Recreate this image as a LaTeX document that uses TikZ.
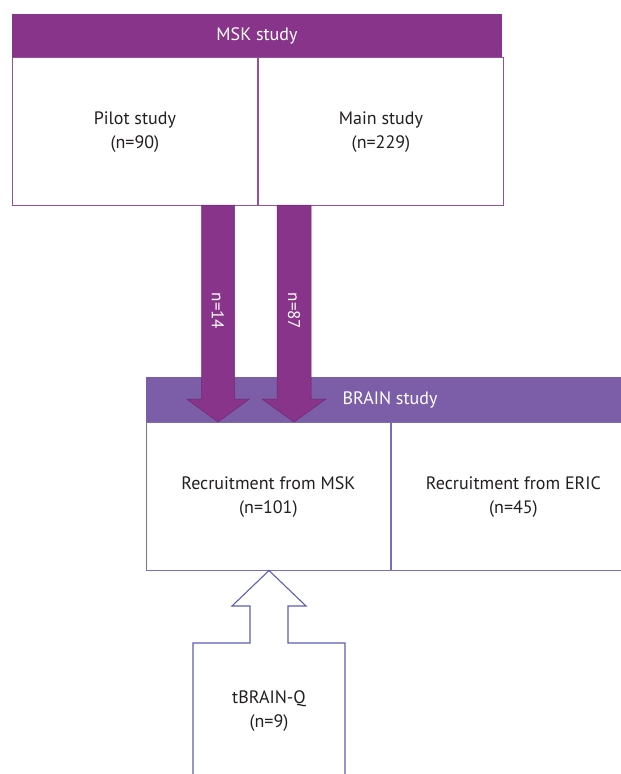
\documentclass[tikz,border=0pt]{standalone}
\usepackage{fontspec}
\setmainfont{PT Sans}
\usetikzlibrary{positioning}
\definecolor{mskpurple}{RGB}{136,52,138}
\definecolor{mskline}{RGB}{150,80,155}
\definecolor{brainpurple}{RGB}{123,94,167}
\definecolor{brainline}{RGB}{124,108,180}
\definecolor{qline}{RGB}{92,94,180}
\definecolor{txt}{RGB}{35,31,32}
\begin{document}
\begin{tikzpicture}[x=1pt,y=-1pt,
    header/.style={inner sep=0pt, text=white, font=\fontsize{18}{20}\selectfont},
    cell/.style={draw=#1, line width=1.1pt, minimum height=148pt, inner sep=0pt,
      align=center, text=txt, font=\fontsize{18}{24}\selectfont},
    flow/.style={fill=mskpurple, draw=mskpurple!80!black, line width=0.5pt},
    flowlabel/.style={text=white, rotate=-90, inner sep=0pt, font=\fontsize{17}{18}\selectfont}]
  \useasboundingbox (0,0) rectangle (621,774);
  \clip (0,0) rectangle (621,774);
  % MSK study
  \node[header, fill=mskpurple, minimum width=490pt, minimum height=43pt] (msk) at (257,35.5) {MSK study};
  \node[cell=mskline, minimum width=245pt, anchor=north west] (pilot) at (msk.south west) {Pilot study\\(n=90)};
  \node[cell=mskline, minimum width=245pt, right=0pt of pilot] (main) {Main study\\(n=229)};
  % BRAIN study
  \node[header, fill=brainpurple, minimum width=488pt, minimum height=45pt] (brain) at (390,399.5) {BRAIN study};
  \node[cell=brainline, minimum width=244pt, anchor=north west] (recmsk) at (brain.south west) {Recruitment from MSK\\(n=101)};
  \node[cell=brainline, minimum width=244pt, right=0pt of recmsk] (receric) {Recruitment from ERIC\\(n=45)};
  % flows into BRAIN
  \draw[flow] (201.5,205) -- (234.5,205) -- (234.5,399) -- (249.5,399) -- (218,422)
    -- (186.5,399) -- (201.5,399) -- cycle;
  \draw[flow] (277,205) -- (311,205) -- (311,399) -- (326,399) -- (294,422)
    -- (262,399) -- (277,399) -- cycle;
  \node[flowlabel] (n14) at (218,311) {n=14};
  \node[flowlabel] (n87) at (294,311) {n=87};
  % tBRAIN-Q
  \draw[qline, line width=1.1pt] (193,785) -- (193,643) -- (250,643) -- (250,606) -- (232,606)
    -- (269,570.5) -- (306,606) -- (288,606) -- (288,643) -- (345,643) -- (345,785);
  \node[align=center, text=txt, font=\fontsize{18}{24}\selectfont] (tbrain) at (269,711) {tBRAIN-Q\\(n=9)};
\end{tikzpicture}
\end{document}
